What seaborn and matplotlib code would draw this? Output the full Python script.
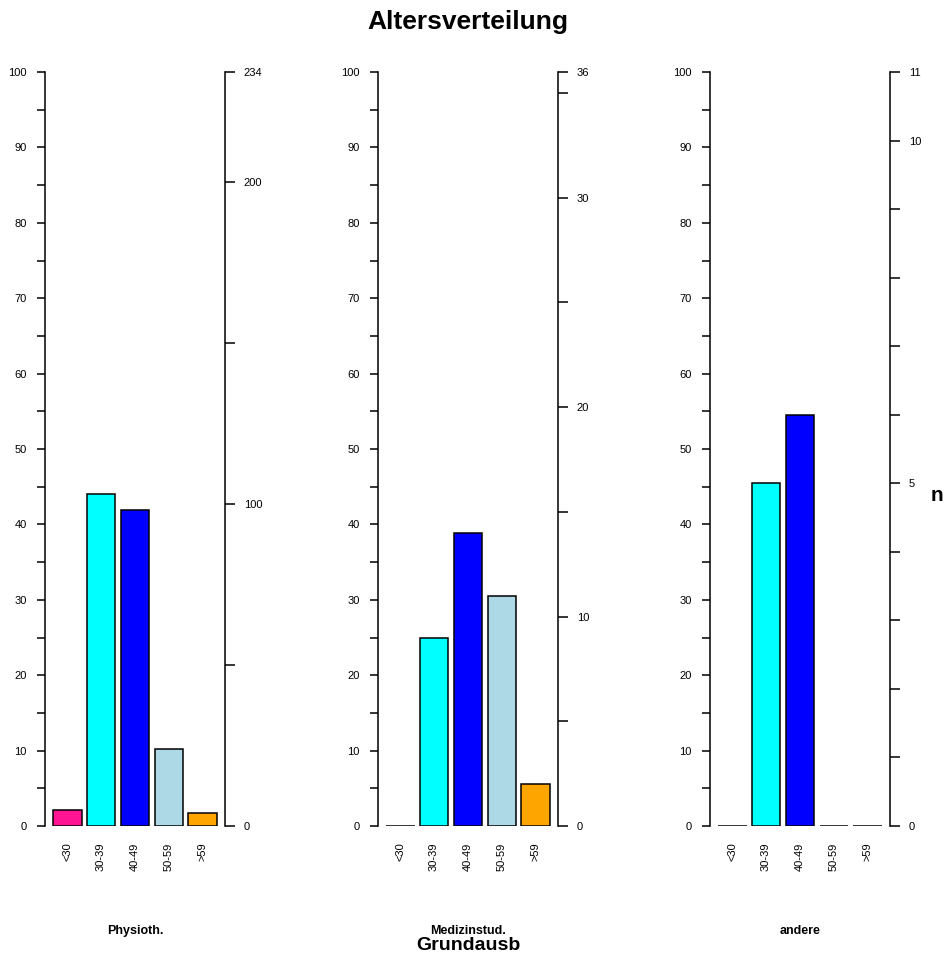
import pandas as pd
import matplotlib
matplotlib.use("Agg")
import matplotlib.pyplot as plt
import seaborn as sns

# data (counts per age group, per basic training)
age_groups = ["<30", "30-39", "40-49", "50-59", ">59"]
groups = ["Physioth.", "Medizinstud.", "andere"]
counts_physio = [5, 103, 98, 24, 4]
counts_medizin = [0, 9, 14, 11, 2]
counts_andere = [0, 5, 6, 0, 0]
bar_colors = ["#FF1493", "#00FFFF", "#0000FF", "#ADD8E6", "#FFA500"]

# right axis ticks (n) per panel
n_ticks = [
    [0, 50, 100, 150, 200, 234],
    [0, 5, 10, 15, 20, 25, 30, 35, 36],
    [0, 1, 2, 3, 4, 5, 6, 7, 8, 9, 10, 11],
]
n_labels = [
    ["0", "", "100", "", "200", "234"],
    ["0", "", "10", "", "20", "", "30", "", "36"],
    ["0", "", "", "", "", "5", "", "", "", "", "10", "11"],
]

sns.set_theme(style="white", rc={"text.color": "black", "axes.labelcolor": "black",
                                 "xtick.color": "black", "ytick.color": "black"})
plt.rcParams["font.family"] = ["Liberation Sans", "DejaVu Sans"]

W, H = 950, 957
fig = plt.figure(figsize=(W / 100, H / 100), dpi=100)

panel_left = [45, 378, 710]
all_counts = [counts_physio, counts_medizin, counts_andere]

for i, (grp, cnts) in enumerate(zip(groups, all_counts)):
    total = sum(cnts)
    df = pd.DataFrame({"Alter": age_groups, "n": cnts})
    df["Prozent"] = df["n"] / total * 100

    ax = fig.add_axes([panel_left[i] / W, (H - 826) / H, 180 / W, 754 / H])
    sns.barplot(data=df, x="Alter", y="Prozent", hue="Alter", palette=bar_colors,
                edgecolor="black", linewidth=1.1, width=0.85, legend=False,
                saturation=1, ax=ax)
    ax.set_xlim(-0.65, 4.65)
    ax.set_ylim(0, 100)
    ax.set_xlabel("")
    ax.set_ylabel("")
    ax.set_yticks(range(0, 101, 5))
    ax.set_yticklabels([str(v) if v % 10 == 0 else "" for v in range(0, 101, 5)])
    ax.tick_params(axis="y", left=True, length=6, width=1.1, labelsize=8,
                   pad=7, colors="black")
    ax.tick_params(axis="x", bottom=False, length=0, labelsize=8, pad=12)
    plt.setp(ax.get_xticklabels(), rotation=90, va="top")
    for s in ["top", "bottom", "right"]:
        ax.spines[s].set_visible(False)
    ax.spines["left"].set_bounds(0, 100)
    ax.spines["left"].set_linewidth(1.1)
    ax.spines["left"].set_color("black")

    ax2 = ax.twinx()
    ax2.set_ylim(0, total)
    ax2.set_yticks(n_ticks[i])
    ax2.set_yticklabels(n_labels[i])
    ax2.tick_params(axis="y", right=True, length=7.5, width=1.1, labelsize=8,
                    pad=6, colors="black")
    for s in ["top", "bottom", "left"]:
        ax2.spines[s].set_visible(False)
    ax2.spines["right"].set_bounds(0, total)
    ax2.spines["right"].set_linewidth(1.1)
    ax2.spines["right"].set_color("black")
    ax2.grid(False)
    ax.grid(False)

    cx = (panel_left[i] + 90) / W
    fig.text(cx, 1 - 931 / H, grp, ha="center", va="center",
             fontsize=9, fontweight="bold")

fig.text(468 / W, 1 - 946 / H, "Grundausb", ha="center", va="center",
         fontsize=14, fontweight="bold")
fig.text(937 / W, 1 - 495 / H, "n", ha="center", va="center",
         fontsize=15, fontweight="bold")
fig.text(468 / W, 1 - 22 / H, "Altersverteilung", ha="center", va="center",
         fontsize=19, fontweight="bold")

fig.savefig("out.png", dpi=100)
